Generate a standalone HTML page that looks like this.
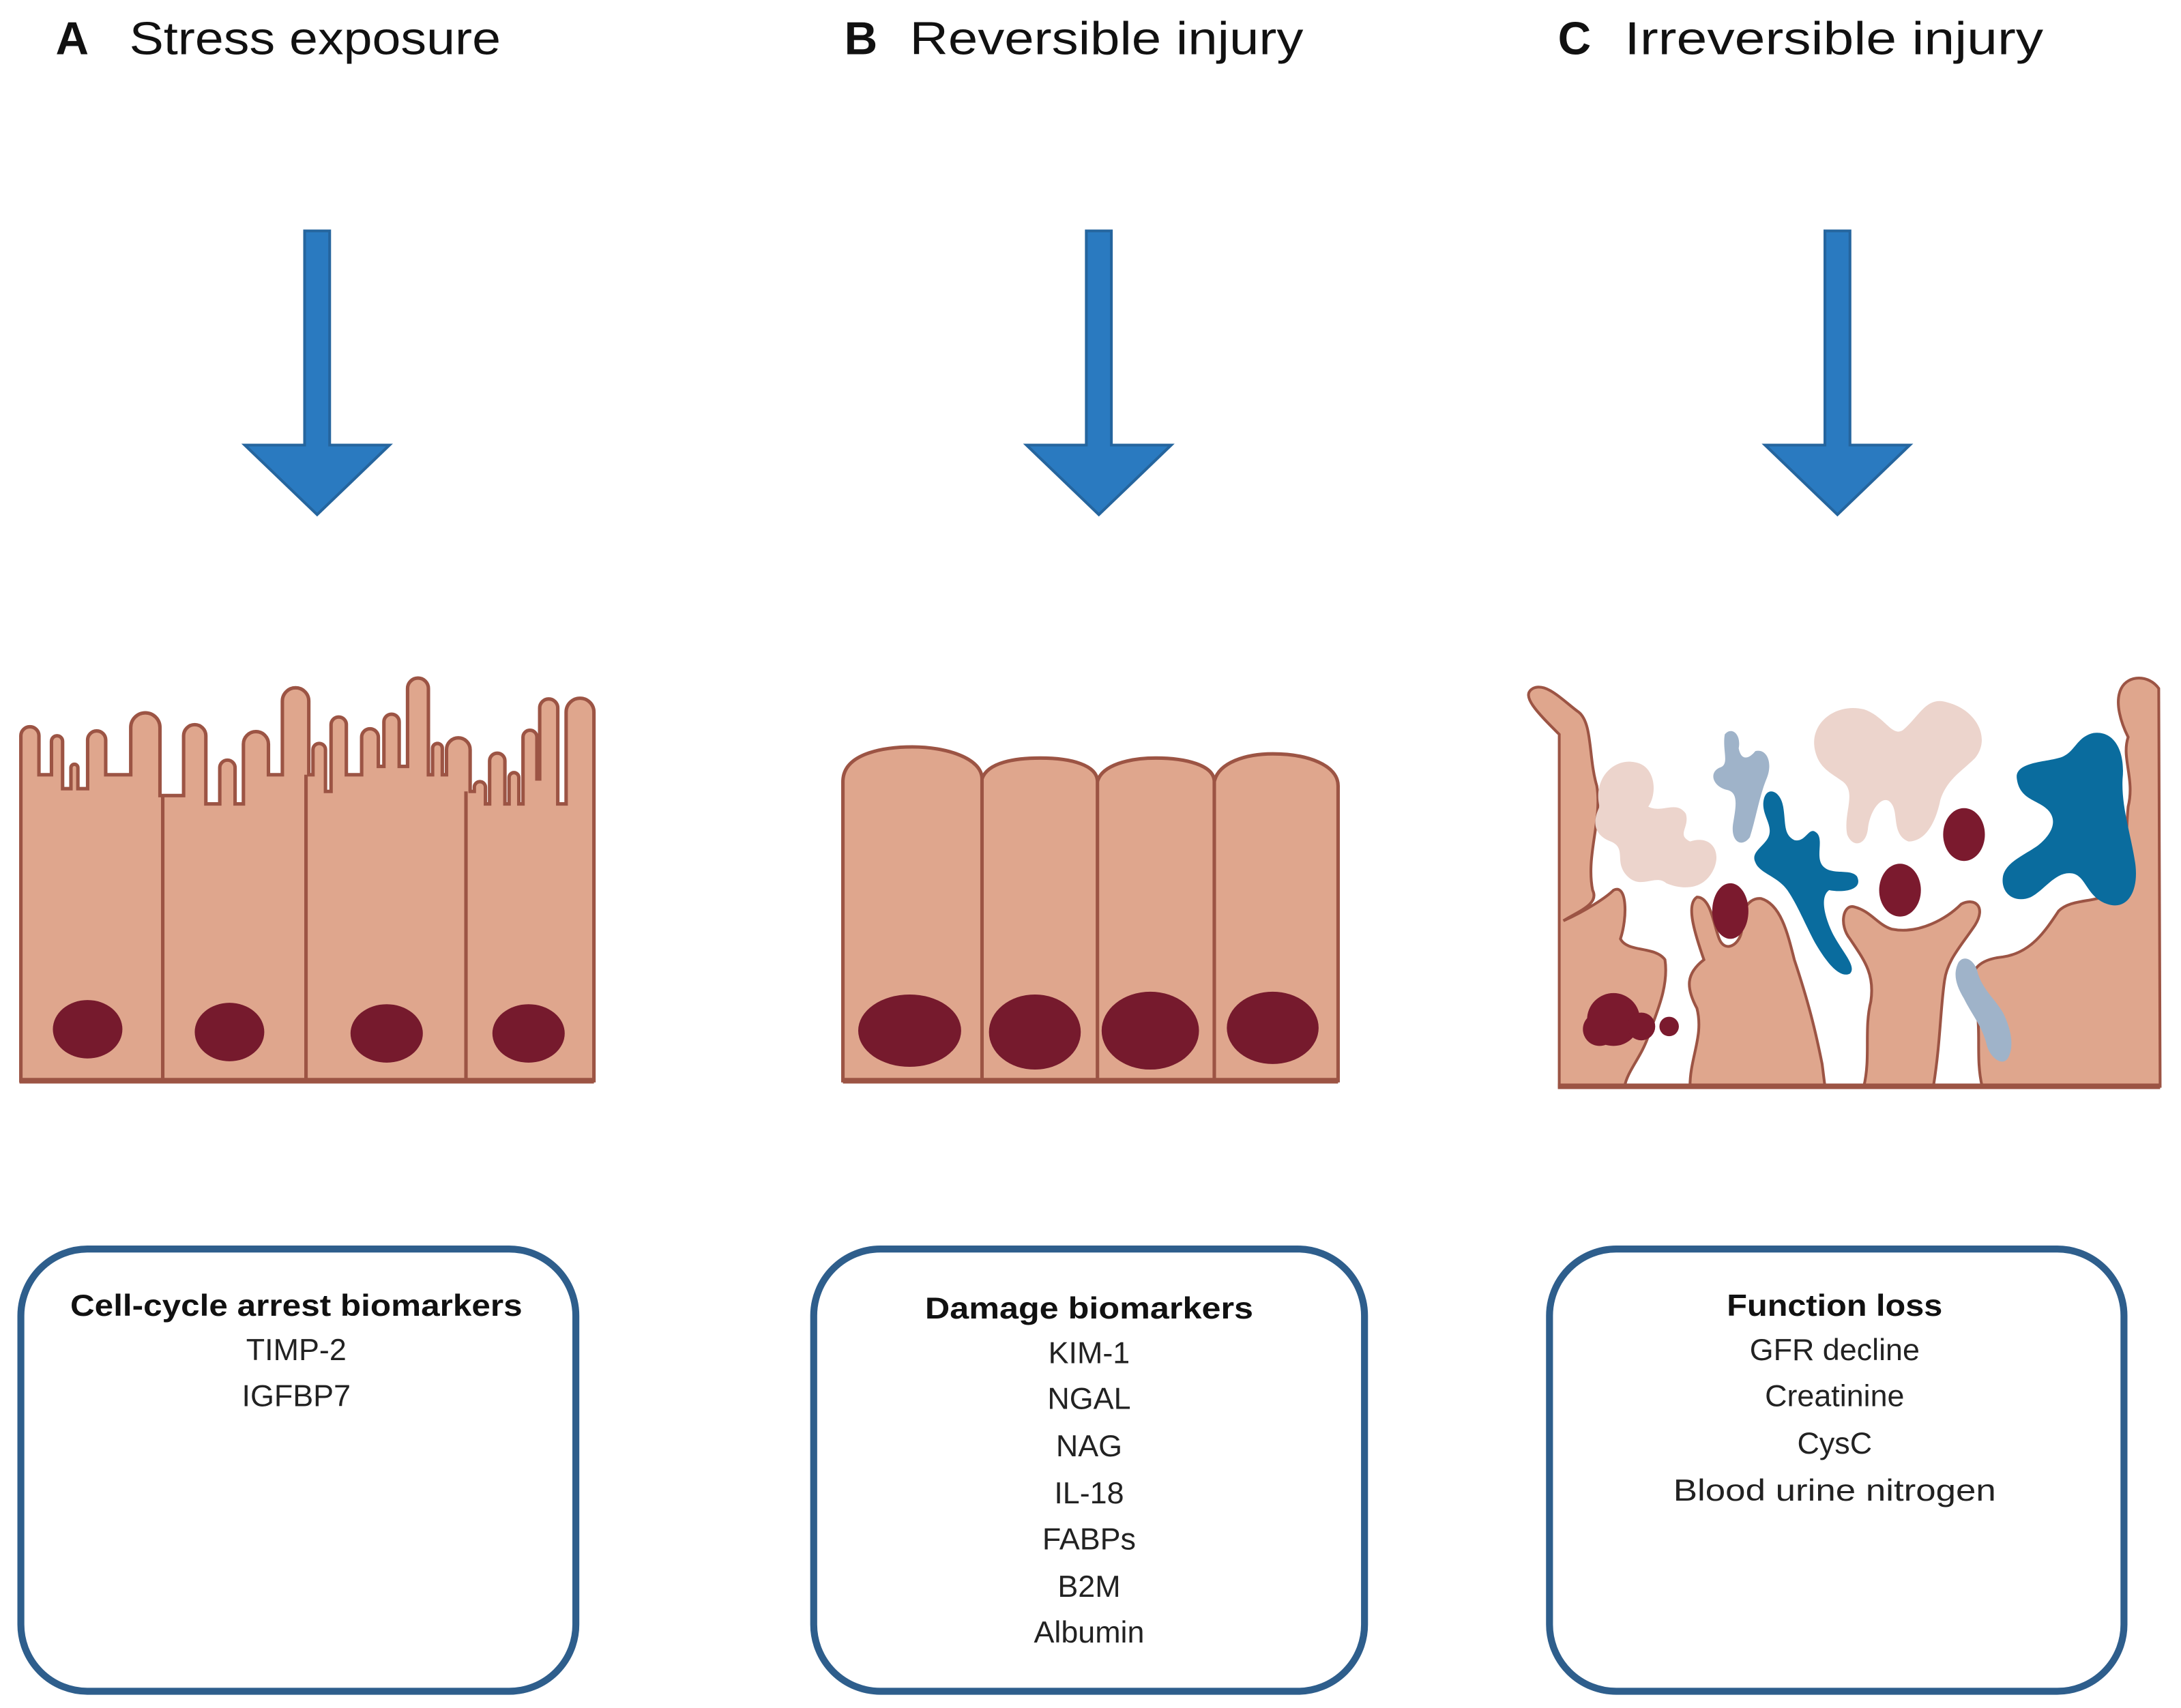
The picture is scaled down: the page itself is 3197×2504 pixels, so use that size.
<!DOCTYPE html>
<html><head><meta charset="utf-8"><style>html,body{margin:0;padding:0;background:#fff}svg{display:block}</style></head>
<body>
<svg width="3197" height="2504" viewBox="0 0 1568 1228" preserveAspectRatio="none" xmlns="http://www.w3.org/2000/svg" font-family="Liberation Sans, sans-serif">
<rect width="1568" height="1228" fill="#fff"/>
<!-- titles -->
<g font-size="33" fill="#111">
<text x="40" y="39" font-weight="bold">A</text>
<text x="93" y="39" textLength="267" lengthAdjust="spacingAndGlyphs">Stress exposure</text>
<text x="607" y="39" font-weight="bold">B</text>
<text x="654" y="39" textLength="283" lengthAdjust="spacingAndGlyphs">Reversible injury</text>
<text x="1120" y="39" font-weight="bold">C</text>
<text x="1168" y="39" textLength="301" lengthAdjust="spacingAndGlyphs">Irreversible injury</text>
</g>
<!-- arrows -->
<g fill="#2a7ac0" stroke="#25659e" stroke-width="2">
<path d="M219,166 L237,166 L237,320 L280,320 L228,370 L176,320 L219,320 Z"/>
<path d="M781,166 L799,166 L799,320 L842,320 L790,370 L738,320 L781,320 Z"/>
<path d="M1312,166 L1330,166 L1330,320 L1373,320 L1321,370 L1269,320 L1312,320 Z"/>
</g>
<!-- A cells -->
<g stroke="#9c5444" stroke-width="2.5" fill="#dfa68d">
<path d="M15,777 L15,529 A6.5,6.5 0 0 1 28,529 L28,557 L37,557 L37,533 A4,4 0 0 1 45,533 L45,567 L51,567 L51,552 A2.5,2.5 0 0 1 56,552 L56,567 L63,567 L63,532 A6.5,6.5 0 0 1 76,532 L76,557 L94,557 L94,523 A10.5,10.5 0 0 1 115,523 L115,572 L132,572 L132,529 A8,8 0 0 1 148,529 L148,578 L158,578 L158,552 A5.5,5.5 0 0 1 169,552 L169,578 L175,578 L175,535 A9,9 0 0 1 193,535 L193,557 L203,557 L203,504 A9.5,9.5 0 0 1 222,504 L222,557 L225,557 L225,539 A4.5,4.5 0 0 1 234,539 L234,569 L238,569 L238,521 A5.5,5.5 0 0 1 249,521 L249,557 L260,557 L260,530 A6,6 0 0 1 272,530 L272,551 L276,551 L276,519 A5.5,5.5 0 0 1 287,519 L287,551 L293,551 L293,495 A7.5,7.5 0 0 1 308,495 L308,557 L311,557 L311,538 A3.5,3.5 0 0 1 318,538 L318,557 L321,557 L321,539 A8.5,8.5 0 0 1 338,539 L338,569 L341,569 L341,566 A4,4 0 0 1 349,566 L349,578 L352,578 L352,547 A5.5,5.5 0 0 1 363,547 L363,578 L366,578 L366,559 A3.5,3.5 0 0 1 373,559 L373,578 L376,578 L376,530 A5,5 0 0 1 386,530 L386,560 L388,560 L388,509 A6.5,6.5 0 0 1 401,509 L401,578 L407,578 L407,512 A10,10 0 0 1 427,512 L427,777 Z"/>
<path d="M117,572 L117,777 M220,557 L220,777 M335,569 L335,777" fill="none"/>
<path d="M14,777 L427,777" stroke-width="4"/>
</g>
<g fill="#761a2d">
<ellipse cx="63" cy="740" rx="25" ry="21"/><ellipse cx="165" cy="742" rx="25" ry="21"/>
<ellipse cx="278" cy="743" rx="26" ry="21"/><ellipse cx="380" cy="743" rx="26" ry="21"/>
</g>
<!-- B cells -->
<g stroke="#9c5444" stroke-width="2.5" fill="#dfa68d">
<path d="M606,777 L606,562 C606,540 640,537 656,537 C680,537 706,545 706,560 C710,548 730,545 748,545 C770,545 789,550 789,562 C792,550 812,545 831,545 C852,545 873,550 873,562 C876,548 896,542 915,542 C940,542 962,550 962,565 L962,777 Z"/>
<path d="M706,560 L706,777 M789,562 L789,777 M873,562 L873,777" fill="none"/>
<path d="M606,777 L962,777" stroke-width="4"/>
</g>
<g fill="#761a2d">
<ellipse cx="654" cy="741" rx="37" ry="26"/><ellipse cx="744" cy="742" rx="33" ry="27"/>
<ellipse cx="827" cy="741" rx="35" ry="28"/><ellipse cx="915" cy="739" rx="33" ry="26"/>
</g>
<!-- C tissue -->
<g stroke="#9c5444" stroke-width="2" fill="#dfa68d">
<path d="M1121,781 L1121,528 C1105,512 1093,500 1102,495 C1112,490 1125,505 1135,512 C1145,520 1142,545 1148,565 C1152,590 1140,615 1145,640 C1150,650 1135,655 1124,662 C1140,655 1155,645 1160,640 C1170,635 1170,660 1165,675 C1170,685 1190,680 1197,690 C1200,710 1190,730 1185,745 C1180,760 1170,770 1168,781 L1215,781 C1215,760 1225,745 1220,725 C1212,710 1212,700 1225,690 C1218,670 1212,650 1220,645 C1230,645 1232,665 1236,675 C1240,685 1250,680 1252,670 C1250,660 1255,645 1266,646 C1280,650 1285,670 1290,690 C1300,720 1305,740 1310,765 L1312,781 L1340,781 C1345,760 1340,740 1345,720 C1348,700 1340,690 1330,675 C1322,665 1325,650 1333,652 C1345,655 1350,665 1360,668 C1380,672 1400,660 1410,650 C1420,645 1428,652 1420,665 C1410,680 1400,690 1398,705 C1395,725 1395,750 1390,781 L1425,781 C1420,760 1425,740 1420,720 C1413,700 1420,690 1440,688 C1460,685 1470,670 1480,655 C1490,645 1510,650 1520,640 C1530,625 1528,600 1530,580 C1535,560 1525,545 1530,530 C1525,520 1520,505 1525,495 C1530,485 1545,485 1552,495 L1553,781 Z"/>
<path d="M1120,781 L1553,781" stroke-width="4"/>
</g>
<!-- pale pink blobs -->
<g fill="#ecd4cc">
<path d="M1150,580 C1145,560 1160,545 1175,548 C1190,550 1192,570 1185,580 C1195,585 1205,575 1212,585 C1215,595 1205,600 1215,605 C1230,600 1238,612 1232,625 C1225,640 1210,640 1198,635 C1190,628 1180,640 1170,630 C1160,620 1170,610 1158,605 C1145,600 1145,590 1150,580 Z"/>
<path d="M1305,540 C1300,520 1320,505 1340,510 C1355,515 1360,530 1368,525 C1380,515 1385,500 1400,505 C1420,510 1432,530 1420,545 C1410,555 1400,560 1395,575 C1392,590 1385,605 1372,605 C1360,600 1365,585 1360,578 C1355,570 1345,580 1343,595 C1342,608 1332,610 1328,600 C1325,585 1335,570 1325,562 C1315,555 1308,552 1305,540 Z"/>
</g>
<g fill="#9fb3c9">
<path d="M1240,528 C1245,522 1252,528 1250,538 C1252,548 1258,545 1262,540 C1270,538 1275,548 1270,560 C1265,572 1262,590 1258,602 C1252,610 1244,605 1246,592 C1248,580 1250,570 1242,568 C1232,566 1228,556 1236,552 C1244,550 1238,540 1240,528 Z"/>
<path d="M1408,692 C1412,686 1420,690 1422,700 C1426,712 1434,718 1440,728 C1446,740 1448,752 1444,760 C1440,768 1430,760 1428,750 C1425,738 1418,730 1412,718 C1406,708 1404,700 1408,692 Z"/>
</g>
<g fill="#0a6c9e">
<path d="M1268,575 C1270,565 1280,568 1282,580 C1284,592 1282,600 1290,604 C1298,606 1300,595 1305,598 C1312,602 1305,615 1310,622 C1316,630 1330,624 1335,630 C1340,640 1325,642 1315,640 C1308,645 1312,660 1318,672 C1325,685 1335,695 1330,700 C1322,704 1312,690 1305,678 C1298,665 1292,650 1285,640 C1278,630 1265,628 1262,620 C1258,612 1270,608 1272,600 C1274,592 1266,585 1268,575 Z"/>
<path d="M1450,560 C1448,548 1470,548 1480,545 C1492,542 1492,530 1505,527 C1520,525 1528,540 1526,560 C1525,580 1532,600 1535,620 C1538,640 1530,655 1515,650 C1500,645 1500,630 1490,628 C1478,626 1470,640 1460,645 C1448,650 1438,642 1440,630 C1442,620 1455,615 1465,608 C1475,600 1480,590 1472,582 C1465,575 1452,575 1450,560 Z"/>
</g>
<g fill="#7b1a2e">
<circle cx="1160" cy="733" r="19"/><circle cx="1180" cy="738" r="10"/><circle cx="1150" cy="740" r="12"/><circle cx="1200" cy="738" r="7"/>
<ellipse cx="1244" cy="655" rx="13" ry="20"/>
<ellipse cx="1366" cy="640" rx="15" ry="19"/>
<ellipse cx="1412" cy="600" rx="15" ry="19"/>
</g>
<!-- boxes -->
<g fill="none" stroke="#2e5e8c" stroke-width="5">
<rect x="15" y="898" width="399" height="318" rx="48"/>
<rect x="585" y="898" width="396" height="318" rx="48"/>
<rect x="1114" y="898" width="413" height="318" rx="48"/>
</g>
<g font-size="22" fill="#222" text-anchor="middle">
<text x="213" y="946" font-weight="bold" fill="#111" textLength="325" lengthAdjust="spacingAndGlyphs">Cell-cycle arrest biomarkers</text>
<text x="213" y="978">TIMP-2</text>
<text x="213" y="1011">IGFBP7</text>
<text x="783" y="948" font-weight="bold" fill="#111" textLength="236" lengthAdjust="spacingAndGlyphs">Damage biomarkers</text>
<text x="783" y="980">KIM-1</text>
<text x="783" y="1013">NGAL</text>
<text x="783" y="1047">NAG</text>
<text x="783" y="1081">IL-18</text>
<text x="783" y="1114">FABPs</text>
<text x="783" y="1148">B2M</text>
<text x="783" y="1181">Albumin</text>
<text x="1319" y="946" font-weight="bold" fill="#111" textLength="155" lengthAdjust="spacingAndGlyphs">Function loss</text>
<text x="1319" y="978">GFR decline</text>
<text x="1319" y="1011">Creatinine</text>
<text x="1319" y="1045">CysC</text>
<text x="1319" y="1079" textLength="232" lengthAdjust="spacingAndGlyphs">Blood urine nitrogen</text>
</g>
</svg>
</body></html>
